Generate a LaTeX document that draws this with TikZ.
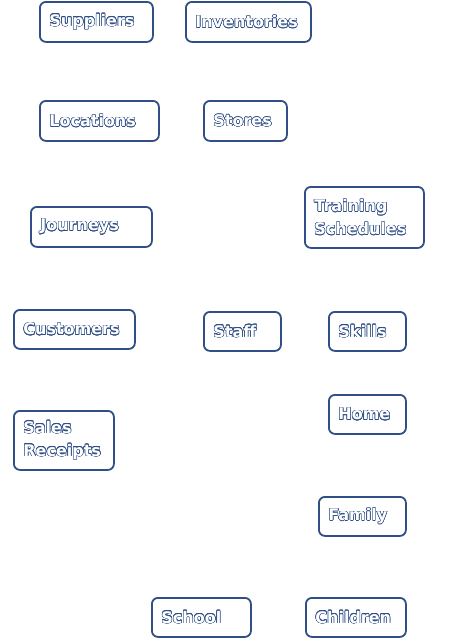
\documentclass[tikz,border=0pt]{standalone}
\usepackage{fontspec}
\setmainfont{DejaVu Sans}
\usepackage{contour}
\contourlength{0.5pt}
\definecolor{cdark}{HTML}{2F4F86}
\newcommand{\ol}[1]{\contour{cdark}{#1}}
\begin{document}
\begin{tikzpicture}[x=1pt,y=1pt,
  ent/.style={draw=cdark, line width=1.8pt, rounded corners=6pt, fill=white,
    anchor=north west, inner xsep=9.5pt, inner ysep=0pt, align=left,
    font=\fontsize{16}{23}\selectfont\bfseries, text=white}]
\useasboundingbox (0,0) rectangle (451,-638);
\newcommand{\ent}[6]{\node[ent, minimum width=#3, text width=#3-19, minimum height=#4] (#5) at (#1,-#2) {#6};}
\ent{39}{1}{113}{40}{sup}{\ol{Suppliers}}
\ent{185}{1}{125}{40}{inv}{\ol{Inventories}}
\ent{39}{100}{119}{40}{loc}{\ol{Locations}}
\ent{203}{100}{83}{40}{sto}{\ol{Stores}}
\ent{304}{186}{119}{61}{tra}{\ol{Training}\\\ol{Schedules}}
\ent{30}{206}{121}{40}{jou}{\ol{Journeys}}
\ent{13}{309}{121}{39}{cus}{\ol{Customers}}
\ent{203}{311}{77}{39}{sta}{\ol{Staff}}
\ent{328}{311}{77}{39}{ski}{\ol{Skills}}
\ent{328}{394}{77}{39}{hom}{\ol{Home}}
\ent{13}{410}{100}{59}{sal}{\ol{Sales}\\\ol{Receipts}}
\ent{318}{496}{87}{39}{fam}{\ol{Family}}
\ent{151}{597}{99}{39}{sch}{\ol{School}}
\ent{305}{597}{100}{39}{chi}{\ol{Children}}
\end{tikzpicture}
\end{document}
